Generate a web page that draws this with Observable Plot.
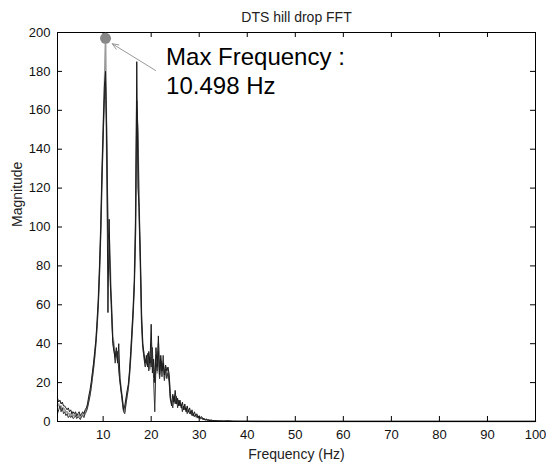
<!DOCTYPE html>
<html><head><meta charset="utf-8">
<script src="https://cdn.jsdelivr.net/npm/d3@7"></script>
<script src="https://cdn.jsdelivr.net/npm/@observablehq/plot@0.6"></script>
<style>html,body{margin:0;padding:0;background:#fff} svg{display:block}</style>
</head><body><div id="chart"></div>
<script>
// Frequency grid (Hz)
const freq = [
  0.5,0.75,
  1,1.25,1.5,1.75, 2,2.25,2.5,2.75, 3,3.25,3.5,3.75, 4,4.25,4.5,4.75, 5,5.25,5.5,5.75,
  6,6.25,6.5,6.75, 7,7.25,7.5,7.75, 8,8.25,8.5,8.75, 9,9.25,9.5,9.75, 10,10.25,10.5,10.75,
  11,11.25,11.5,11.75, 12,12.25,12.5,12.75, 13,13.25,13.5,13.75, 14,14.25,14.5,14.75,
  15,15.25,15.5,15.75, 16,16.25,16.5,16.75, 17,17.25,17.5,17.75, 18,18.25,18.5,18.75,
  19,19.25,19.5,19.75, 20,20.25,20.5,20.75, 21,21.25,21.5,21.75, 22,22.25,22.5,22.75,
  23,23.25,23.5,23.75, 24,24.25,24.5,24.75, 25,25.25,25.5,25.75, 26,26.25,26.5,26.75,
  27,27.25,27.5,27.75, 28,28.25,28.5,28.75, 29,29.25,29.5,29.75, 30,30.25,30.5,30.75,
  31,31.25,31.5,31.75, 32,32.25,32.5,32.75, 33,33.25,33.5,33.75, 34,
  35,36,37,38,40,45,50,55,60,65,70,75,80,85,90,95,100
];
// Magnitude, trace 1 (black)
const seriesA = [
  12,10,
  11,9,10,8, 8,7,6,7, 5,6,4,5, 4,5,3,4, 5,3,4,5,
  4,6,7,9, 13,16,20,25, 30,36,42,52, 63,80,100,128, 150,172,180,140,
  56,104,70,60, 40,36,33,38, 30,40,22,16, 12,6,8,12,
  16,19,26,36, 47,58,72,105, 185,120,110,85, 55,40,35,30,
  34,28,36,30, 50,25,32,20, 38,28,44,24, 34,26,30,24,
  29,26,28,24, 12,8,14,10, 16,9,12,8, 11,7,10,6,
  9,5,8,5, 7,4,6,3, 5,3,4,2, 3,2,2.5,1.5,
  1.5,1,1.2,0.8, 0.8,0.6,0.7,0.5, 0.5,0.4,0.4,0.3, 0.3,
  0.2,0.3,0.15,0.1,0.1,0.05,0.05,0.05,0.05,0.05,0.05,0.05,0.05,0.05,0.05,0.05,0.05
];
// Magnitude, trace 2 (black)
const seriesB = [
  4,6,
  8,5,7,4, 5,3,4,2, 3,2,3,1.5, 2,3,1.5,2.5, 2,1,2.5,3,
  2,4,5,7, 10,13,17,22, 27,33,40,49, 60,76,96,122, 145,165,175,150,
  98,92,74,56, 42,38,30,34, 36,26,20,15, 10,5,4,9,
  13,17,24,33, 44,55,70,96, 165,150,105,80, 50,38,33,28,
  30,35,26,33, 28,38,22,5, 30,26,36,22, 31,23,34,21,
  27,22,25,20, 11,10,7,13, 9,13,7,11, 8,9,5,8,
  6,7,4,6, 4,5,3,4, 2.5,3.5,2,2.5, 1.8,1.5,1.8,1,
  1.2,0.8,0.9,0.6, 0.6,0.5,0.5,0.4, 0.4,0.3,0.3,0.25, 0.25,
  0.15,0.2,0.1,0.1,0.08,0.05,0.05,0.05,0.05,0.05,0.05,0.05,0.05,0.05,0.05,0.05,0.05
];
// Magnitude, trace 3 (gray, holds the maximum)
const seriesC = [
  8,9,
  7,8,6,7, 6,5,5,4, 4,3,5,3, 3,4,2.5,3, 3.5,2,3,4,
  3,5,6,8, 11,14,18,23, 28,34,41,50, 62,78,98,125, 150,170,197,135,
  100,96,78,58, 44,40,32,36, 34,30,22,17, 11,6,5,10,
  14,18,25,34, 45,57,73,100, 160,145,108,82, 52,39,34,29,
  32,29,33,27, 40,30,26,24, 34,25,40,23, 32,27,31,22,
  28,24,27,22, 13,9,11,12, 10,12,9,10, 9,8,7,7,
  7,6,6,5, 5,4,4,3, 3,2.5,3,2, 2,1.6,1.8,1.2,
  1.2,0.9,1,0.7, 0.7,0.5,0.6,0.4, 0.4,0.35,0.3,0.3, 0.25,
  0.2,0.2,0.1,0.1,0.1,0.05,0.05,0.05,0.05,0.05,0.05,0.05,0.05,0.05,0.05,0.05,0.05
];
const xTicks = [10,20,30,40,50,60,70,80,90,100];
const yTicks = [0,20,40,60,80,100,120,140,160,180,200];
const titleText = "DTS hill drop FFT";
const xLabel = "Frequency (Hz)";
const yLabel = "Magnitude";
const maxPoint = [{f: 10.498, m: 197}];
const annotationLines = ["Max Frequency :", "10.498 Hz"];
const annotationX = [23.1, 23.1];
const annotationY = [183.5, 168.6];
const arrowSeg = [{f1: 20.9, m1: 180.5, f2: 11.9, m2: 194.2}];

const W = 546, H = 469, mL = 57, mR = 11, mT = 32, mB = 48;
const pw = W - mL - mR, ph = H - mT - mB;
const rows = vals => freq.map((f, i) => ({f, m: vals[i]}));

const chart = Plot.plot({
  width: W, height: H,
  marginLeft: mL, marginRight: mR, marginTop: mT, marginBottom: mB,
  x: {domain: [0.5, 100]},
  y: {domain: [0, 200]},
  style: {fontFamily: "'Liberation Sans', Arial, sans-serif", fontSize: "13px", color: "#111", background: "#fff"},
  marks: [
    Plot.line(rows(seriesC), {x: "f", y: "m", stroke: "#9a9a9a", strokeWidth: 1.6}),
    Plot.line(rows(seriesB), {x: "f", y: "m", stroke: "#333", strokeWidth: 1}),
    Plot.line(rows(seriesA), {x: "f", y: "m", stroke: "#1a1a1a", strokeWidth: 1}),
    Plot.tickX(xTicks, {x: d => d, insetTop: ph - 5, stroke: "#000"}),
    Plot.tickX(xTicks, {x: d => d, insetBottom: ph - 5, stroke: "#000"}),
    Plot.tickY(yTicks, {y: d => d, insetRight: pw - 5, stroke: "#000"}),
    Plot.tickY(yTicks, {y: d => d, insetLeft: pw - 5, stroke: "#000"}),
    Plot.frame({stroke: "#000"}),
    Plot.axisX({ticks: xTicks, tickSize: 0, tickPadding: 8, label: null, fontSize: 13}),
    Plot.axisY({ticks: yTicks, tickSize: 0, tickPadding: 7, label: null, fontSize: 13}),
    Plot.arrow(arrowSeg, {x1: "f1", y1: "m1", x2: "f2", y2: "m2", stroke: "#999", strokeWidth: 1, headLength: 10, headAngle: 45}),
    Plot.dot(maxPoint, {x: "f", y: "m", r: 5.5, fill: "#888", stroke: "none"}),
    Plot.text(annotationLines, {x: (d, i) => annotationX[i], y: (d, i) => annotationY[i], text: d => d, textAnchor: "start", lineAnchor: "bottom", fontSize: 24, fill: "#000"}),
    Plot.text([titleText], {frameAnchor: "top", dy: -20, text: d => d, fontSize: 14, fill: "#222"}),
    Plot.text([xLabel], {frameAnchor: "bottom", dy: 37, text: d => d, fontSize: 14, fill: "#222"}),
    Plot.text([yLabel], {frameAnchor: "left", dx: -40, rotate: -90, text: d => d, fontSize: 14, fill: "#222"})
  ]
});
document.getElementById("chart").appendChild(chart);
</script>
</body></html>
